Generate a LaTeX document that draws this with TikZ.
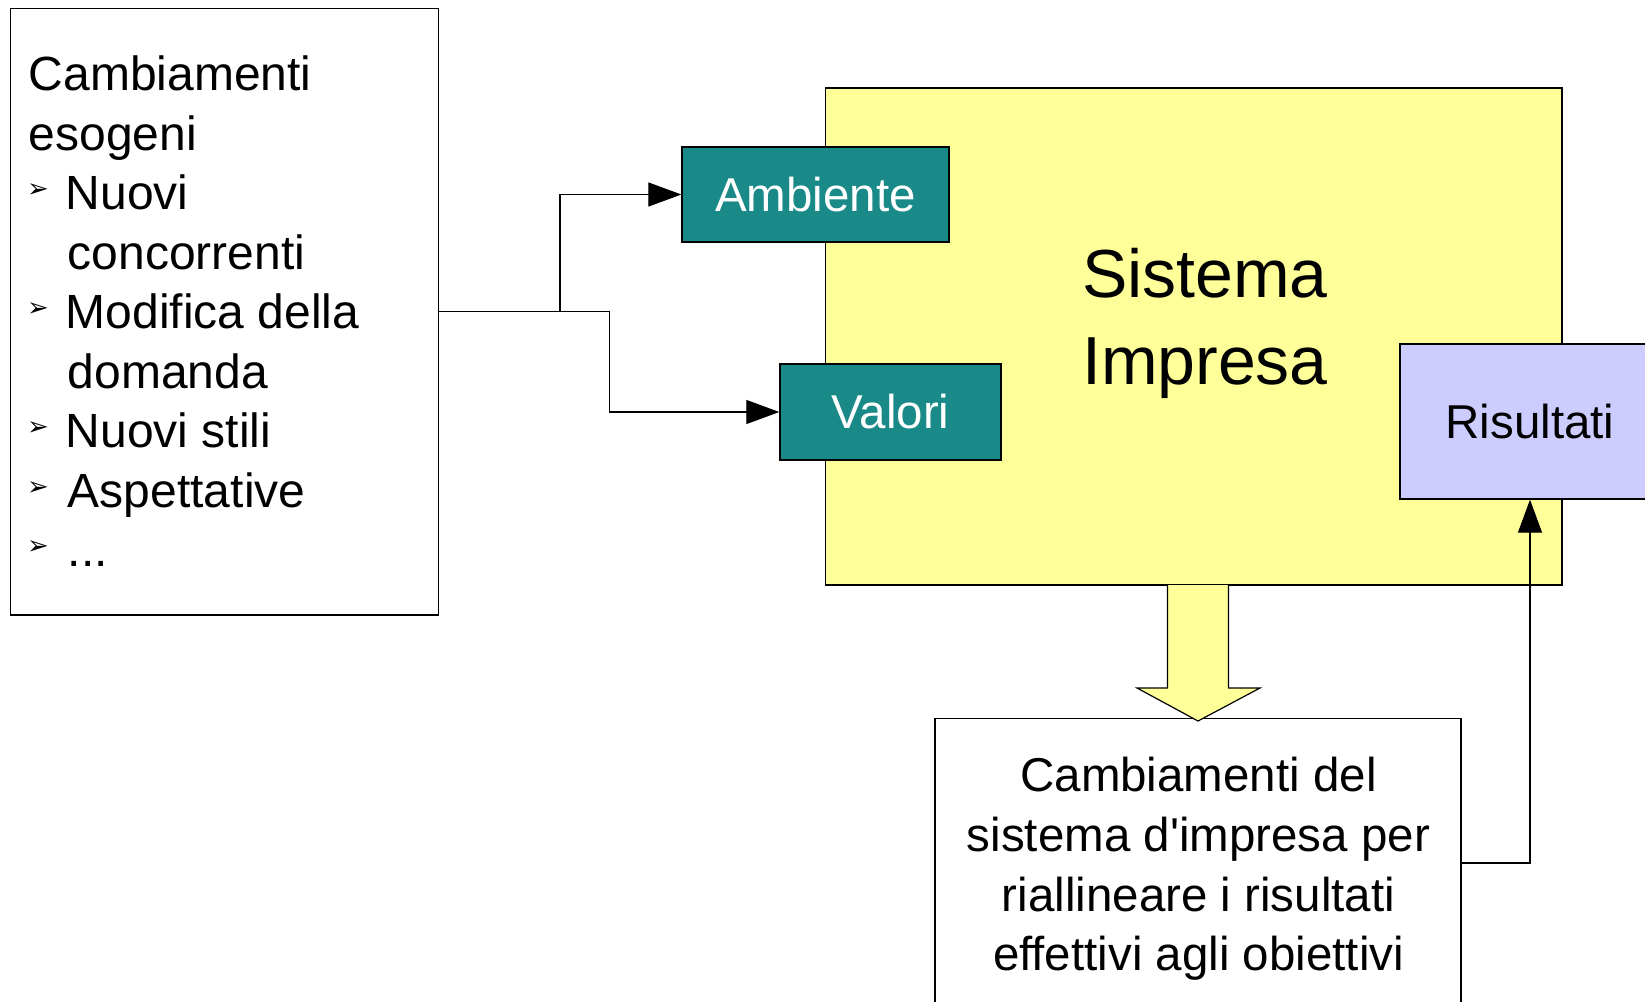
\documentclass[tikz,border=0pt]{standalone}
\usepackage{fontspec}
\setmainfont{Liberation Sans}[Ligatures=TeXOff]
\newfontfamily\dejavu{DejaVu Sans}
\usetikzlibrary{arrows.meta}
\definecolor{sysyellow}{RGB}{255,255,153}
\definecolor{tealbox}{RGB}{26,138,137}
\definecolor{risblue}{RGB}{204,204,255}
\begin{document}
\begin{tikzpicture}[x=0.5pt,y=-0.5pt,
  box/.style={draw=black, line width=0.65pt, rectangle, inner sep=0pt},
  txt/.style={font=\fontsize{23.75pt}{29.75pt}\selectfont, inner sep=0pt},
  ltxt/.style={font=\fontsize{24pt}{29.75pt}\selectfont, inner sep=0pt, anchor=base west},
  big/.style={font=\fontsize{34pt}{40pt}\selectfont, inner sep=0pt},
  bul/.style={font=\dejavu\fontsize{13pt}{14pt}\selectfont, inner sep=0pt, text=black},
  conn/.style={draw=black, line width=0.6pt},
  tip/.style={-{Triangle[length=16.5pt,width=12pt]}}
]
\fill[white] (0,0) rectangle (1645,1002);
\clip (0,0) rectangle (1645,1002);

% left box
\node[box, fill=white, minimum width=214pt, minimum height=303.3pt] (exo) at (224.5,311.7) {};
\node[ltxt] (l1) at (28.5,90.5) {Cambiamenti};
\node[ltxt] (l2) at (28.5,150) {esogeni};
\node[ltxt] (l3) at (65.5,209.5) {Nuovi};
\node[ltxt] (l4) at (67.5,269) {concorrenti};
\node[ltxt] (l5) at (65.5,328.5) {Modifica della};
\node[ltxt] (l6) at (67.5,388) {domanda};
\node[ltxt] (l7) at (65.5,447.5) {Nuovi stili};
\node[ltxt] (l8) at (67.5,507) {Aspettative};
\node[ltxt] (l9) at (67.5,566.5) {...};
\node[bul] (b1) at (38,191) {➢};
\node[bul] (b2) at (38,310) {➢};
\node[bul] (b3) at (38,429) {➢};
\node[bul] (b4) at (38,488.5) {➢};
\node[bul] (b5) at (38,548) {➢};

% system box
\node[box, fill=sysyellow, minimum width=368.25pt, minimum height=248.5pt] (sys) at (1193.75,336.5) {};
\node[big, anchor=base] (s1) at (1205,297) {Sistema};
\node[big, anchor=base] (s2) at (1205,384) {Impresa};

\node[box, fill=tealbox, text=white, txt, minimum width=133.5pt, minimum height=47.5pt] (amb) at (815.5,194.5) {Ambiente};
\node[box, fill=tealbox, text=white, txt, minimum width=110.5pt, minimum height=48pt] (val) at (890.5,412) {Valori};
\node[box, fill=risblue, txt, minimum width=130pt, minimum height=77.5pt] (ris) at (1530,421.5) {Risultati};

% bottom box
\node[box, fill=white, minimum width=263pt, minimum height=144.5pt] (bot) at (1198,863) {};
\node[txt, anchor=base] (t1) at (1198.5,791) {Cambiamenti del};
\node[txt, anchor=base] (t2) at (1198.5,851) {sistema d'impresa per};
\node[txt, anchor=base] (t3) at (1198.5,911) {riallineare i risultati};
\node[txt, anchor=base] (t4) at (1198.5,970.5) {effettivi agli obiettivi};

% block arrow
\draw[fill=sysyellow, line width=0.6pt, line join=miter]
  (1167.5,585) -- (1167.5,688) -- (1137,688) -- (1198,721) -- (1260,688)
  -- (1228.5,688) -- (1228.5,585);

% connectors
\coordinate (j1) at (560,311.7);
\coordinate (j2) at (609.5,311.7);
\draw[conn, tip] (exo.east) -- (j1) |- (amb.west);
\draw[conn, tip] (exo.east) -- (j2) |- (val.west);
\draw[conn, tip] (bot.east) -| (ris.south);
\end{tikzpicture}
\end{document}
